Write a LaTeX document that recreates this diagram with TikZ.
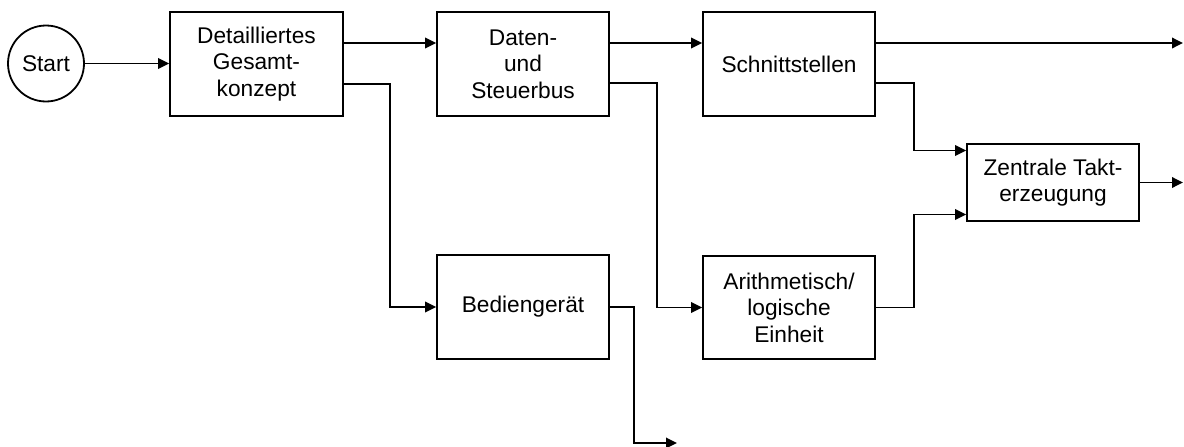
\documentclass[tikz,border=0pt]{standalone}
\usepackage{fontspec}
\setmainfont{Liberation Sans}
\usetikzlibrary{arrows.meta}
\begin{document}
\begin{tikzpicture}[x=1pt,y=-1pt,
  every node/.style={font=\fontsize{22.7}{26.5}\selectfont},
  blk/.style={draw,line width=1.8pt,rectangle,minimum width=172pt,inner sep=0pt,align=center},
  startc/.style={draw,line width=1.8pt,circle,minimum size=76pt,inner sep=0pt},
  conn/.style={line width=1.8pt,-{Triangle[length=11pt,width=10.5pt]}}]
\useasboundingbox (0,0) rectangle (1184,447);
\node[startc] (start) at (46,63.5) {Start};
\node[blk,minimum width=173pt,minimum height=104pt] (b1) at (256.5,64) {Detailliertes\\Gesamt-\\konzept};
\node[blk,minimum height=104pt] (b2) at (523,64) {Daten-\\und\\Steuerbus};
\node[blk,minimum height=104pt] (b3) at (789,64) {Schnittstellen};
\node[blk,minimum height=77pt] (b4) at (1053,182.5) {Zentrale Takt-\\erzeugung};
\node[blk,minimum height=103pt] (b5) at (789,307.5) {Arithmetisch/\\logische\\Einheit};
\node[blk,minimum height=104pt] (b6) at (523,307) {Bedienger\"at};
\coordinate (out1) at (1183,43);
\coordinate (out2) at (1183,182.5);
\coordinate (out3) at (677,443);
\draw[conn] (start.east) -- (b1.west |- start.east);
\draw[conn] ([yshift=21pt]b1.east) -- ([yshift=21pt]b2.west);
\draw[conn] ([yshift=-20pt]b1.east) -- ++(46pt,0) |- (b6.west);
\draw[conn] ([yshift=21pt]b2.east) -- ([yshift=21pt]b3.west);
\draw[conn] ([yshift=-19pt]b2.east) -- ++(47pt,0) |- (b5.west);
\draw[conn] ([yshift=21pt]b3.east) -- (out1);
\draw[conn] ([yshift=-19pt]b3.east) -- ++(38pt,0) |- ([yshift=32pt]b4.west);
\draw[conn] (b5.east) -- ++(38pt,0) |- ([yshift=-32pt]b4.west);
\draw[conn] (b4.east) -- (out2);
\draw[conn] (b6.east) -- ++(24pt,0) |- (out3);
\end{tikzpicture}
\end{document}
